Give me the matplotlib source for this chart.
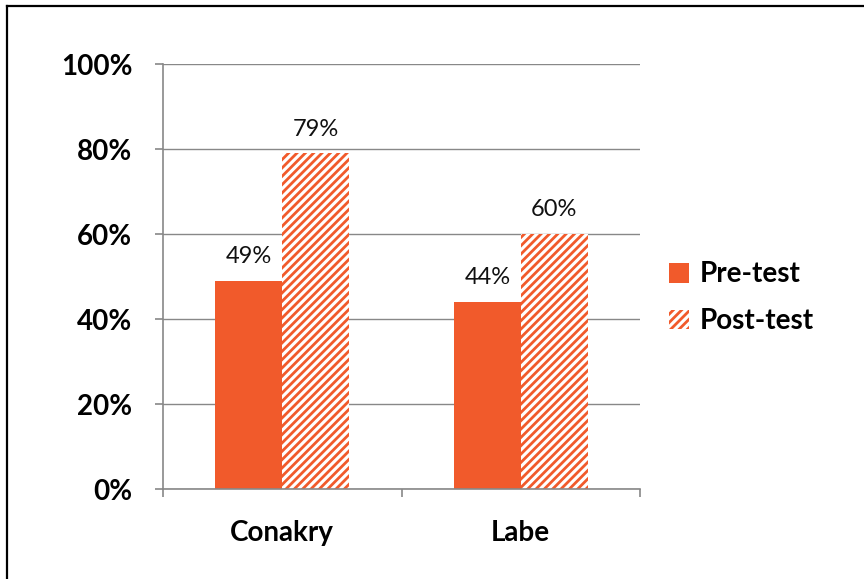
import matplotlib
matplotlib.use("Agg")
import matplotlib.pyplot as plt
import numpy as np
from matplotlib.lines import Line2D

categories = ["Conakry", "Labe"]
pre_test = [49, 44]
post_test = [79, 60]
series_names = ["Pre-test", "Post-test"]
yticks = [0, 20, 40, 60, 80, 100]

color = "#F15A2B"
plt.rcParams['font.family'] = ['Lato', 'DejaVu Sans']
plt.rcParams['hatch.linewidth'] = 2.0
plt.rcParams['hatch.color'] = color

fig = plt.figure(figsize=(8.64, 5.79), dpi=100)
# frame: only left and top edges visible (rest lies outside the image)
fig.lines.append(Line2D([7/864, 7/864], [0, 1 - 6/579], transform=fig.transFigure,
                        color='black', linewidth=1.6))
fig.lines.append(Line2D([7/864, 1], [1 - 6/579, 1 - 6/579], transform=fig.transFigure,
                        color='black', linewidth=1.6))
ax = fig.add_axes([0.1887, 0.1554, 0.552, 0.734])

x = np.arange(len(categories))
w = 0.28
b1 = ax.bar(x - w/2, pre_test, w, color=color, label=series_names[0], zorder=2)
b2 = ax.bar(x + w/2, post_test, w, facecolor='white', edgecolor=color, hatch='////',
            linewidth=0, label=series_names[1], zorder=2)

for bars, vals in ((b1, pre_test), (b2, post_test)):
    for r, v in zip(bars, vals):
        ax.text(r.get_x() + r.get_width()/2, v + 3.2, f"{v}%", ha='center', va='bottom',
                fontsize=17, color='#111111')

ax.set_xlim(-0.5, 1.5)
ax.set_ylim(0, 100)
ax.set_yticks(yticks)
ax.set_yticklabels([f"{t}%" for t in yticks], fontsize=20, fontweight='bold')
ax.set_xticks(x)
ax.set_xticklabels(categories, fontsize=20, fontweight='bold')
ax.set_xticks([-0.5, 0.5, 1.5], minor=True)
ax.tick_params(axis='x', which='major', length=0, pad=22)
ax.tick_params(axis='x', which='minor', length=6, color='#888888', width=1.2)
ax.tick_params(axis='y', length=6, color='#888888', width=1.2, pad=16)
ax.grid(axis='y', color='#888888', linewidth=1, zorder=0)
for s in ['top', 'right']:
    ax.spines[s].set_visible(False)
for s in ['left', 'bottom']:
    ax.spines[s].set_color('#888888')
    ax.spines[s].set_linewidth(1.2)

leg = ax.legend(loc='center left', bbox_to_anchor=(1.008, 0.45), frameon=False,
                prop={'size': 20, 'weight': 'bold'}, handlelength=0.72, handleheight=0.72,
                labelspacing=0.75, handletextpad=0.4)

fig.savefig("out.png", dpi=100)
